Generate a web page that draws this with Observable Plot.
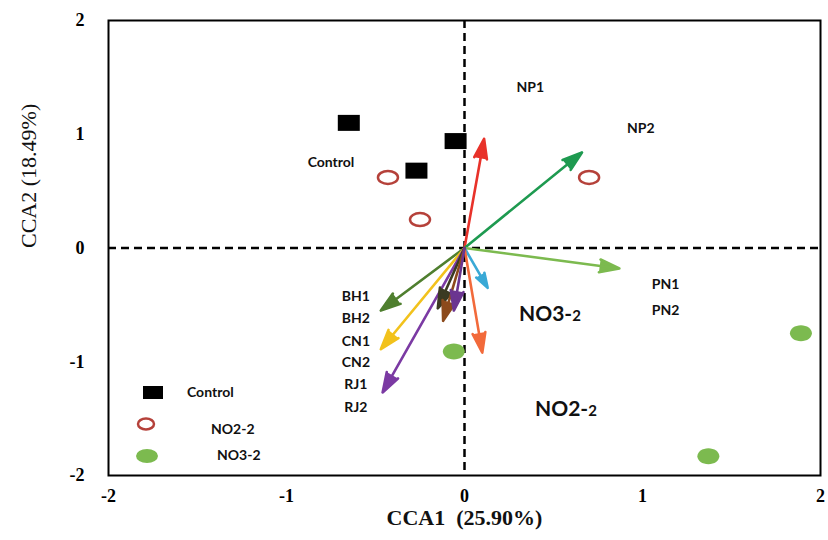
<!DOCTYPE html>
<html><head><meta charset="utf-8">
<script src="https://cdn.jsdelivr.net/npm/d3@7"></script>
<script src="https://cdn.jsdelivr.net/npm/@observablehq/plot@0.6"></script>
<style>
body{margin:0;background:#fff;}
#wrap{position:relative;width:828px;height:540px;}
#legend{position:absolute;left:134px;top:380px;font-family:Lato,"Liberation Sans",sans-serif;font-weight:bold;font-size:14px;color:#111;}
#legend .row{position:absolute;white-space:nowrap;}
</style>
</head><body>
<div id="wrap"><div id="chart"></div>
<div id="legend">
  <div class="row" style="left:8px;top:4px;"><svg width="22" height="16"><rect x="1" y="2" width="20" height="13" fill="#000"/></svg></div>
  <div class="row" style="left:53px;top:3px;">Control</div>
  <div class="row" style="left:1px;top:36px;"><svg width="22" height="16"><ellipse cx="11" cy="8" rx="8" ry="5.5" fill="none" stroke="#b5413a" stroke-width="2.5"/></svg></div>
  <div class="row" style="left:77px;top:40px;">NO2-2</div>
  <div class="row" style="left:1px;top:68px;"><svg width="24" height="16"><ellipse cx="12" cy="8" rx="11" ry="7" fill="#7cba4f"/></svg></div>
  <div class="row" style="left:83px;top:66px;">NO3-2</div>
</div>
</div>
<script>
// Samples (CCA site scores)
const controlX = [-0.65, -0.05, -0.27];
const controlY = [1.10, 0.94, 0.68];
const no2X = [-0.43, -0.25, 0.70];
const no2Y = [0.62, 0.25, 0.62];
const no3X = [-0.06, 1.89, 1.37];
const no3Y = [-0.91, -0.75, -1.83];

// Environmental / species vectors (arrow tips)
const arrowX = [0.11, 0.66, 0.87, 0.13, 0.10, -0.47, -0.47, -0.46, -0.15, -0.12, -0.06];
const arrowY = [0.96, 0.84, -0.18, -0.35, -0.92, -0.55, -0.89, -1.27, -0.53, -0.64, -0.55];
const arrowColors = ["#e8322a", "#1e9a50", "#7cba4f", "#3aa9d6", "#f26a3b", "#4f7f2f", "#f2c21c", "#7b3aa3", "#3b3a22", "#8c4a1c", "#6b3590"];

// Text labels and anchor values
const labelText = ["NP1", "NP2", "PN1", "PN2", "BH1", "BH2", "CN1", "CN2", "RJ1", "RJ2", "Control"];
const labelX = [0.37, 0.99, 1.13, 1.13, -0.61, -0.61, -0.61, -0.61, -0.61, -0.61, -0.75];
const labelY = [1.415, 1.05, -0.32, -0.55, -0.43, -0.62, -0.82, -1.01, -1.20, -1.40, 0.75];
const groupText = ["NO3-|2", "NO2-|2"];
const groupX = [0.48, 0.57];
const groupY = [-0.58, -1.42];

const xTicks = [-2, -1, 0, 1, 2];
const yTicks = [-2, -1, 0, 1, 2];

const control = controlX.map((x, i) => ({x, y: controlY[i]}));
const no2 = no2X.map((x, i) => ({x, y: no2Y[i]}));
const no3 = no3X.map((x, i) => ({x, y: no3Y[i]}));
const arrows = arrowX.map((x, i) => ({x, y: arrowY[i], c: arrowColors[i]}));
const labels = labelText.map((t, i) => ({t, x: labelX[i], y: labelY[i]}));
const groups = groupText.map((t, i) => ({t, x: groupX[i], y: groupY[i]}));

const rectSym = {draw(ctx){ ctx.rect(-11, -8, 22, 16); }};
function ellipseSym(rx, ry){
  const k = 0.5523;
  return {draw(ctx){
    ctx.moveTo(rx, 0);
    ctx.bezierCurveTo(rx, ry*k, rx*k, ry, 0, ry);
    ctx.bezierCurveTo(-rx*k, ry, -rx, ry*k, -rx, 0);
    ctx.bezierCurveTo(-rx, -ry*k, -rx*k, -ry, 0, -ry);
    ctx.bezierCurveTo(rx*k, -ry, rx, -ry*k, rx, 0);
    ctx.closePath();
  }};
}

const serif = "'Liberation Serif','DejaVu Serif',serif";
const sans = "Lato,'Liberation Sans',sans-serif";
const fmt = d => String(d);

const chart = Plot.plot({
  width: 828, height: 540,
  marginLeft: 108, marginRight: 8, marginTop: 20, marginBottom: 65,
  style: {background: "#fff", overflow: "visible"},
  x: {domain: [-2, 2]},
  y: {domain: [-2, 2]},
  marks: [
    Plot.ruleX([0], {stroke: "#000", strokeWidth: 2.5, strokeDasharray: "8,5"}),
    Plot.ruleY([0], {stroke: "#000", strokeWidth: 2.5, strokeDasharray: "8,5"}),
    Plot.arrow(arrows, {x1: d => 0, y1: d => 0, x2: "x", y2: "y", stroke: "c", strokeWidth: 2.6, headLength: 12, headAngle: 36, className: "vec"}),
    Plot.dot(control, {x: "x", y: "y", symbol: rectSym, fill: "#000", stroke: "none"}),
    Plot.dot(no2, {x: "x", y: "y", symbol: ellipseSym(10, 6.5), fill: "none", stroke: "#b5413a", strokeWidth: 2.5}),
    Plot.dot(no3, {x: "x", y: "y", symbol: ellipseSym(11, 8), fill: "#7cba4f", stroke: "none"}),
    Plot.text(labels, {x: "x", y: "y", text: "t", fontFamily: sans, fontWeight: "bold", fontSize: 14, fill: "#111"}),
    Plot.text(groups, {x: "x", y: "y", text: "t", fontFamily: sans, fontWeight: "bold", fontSize: 21, fill: "#111", className: "grp"}),
    Plot.frame({stroke: "#000", strokeWidth: 2}),
    Plot.axisX(xTicks, {tickSize: 0, tickPadding: 14, tickFormat: fmt, fontFamily: serif, fontWeight: "bold", fontSize: 18, label: null}),
    Plot.axisY(yTicks, {tickSize: 0, tickPadding: 24, tickFormat: fmt, fontFamily: serif, fontWeight: "bold", fontSize: 18, label: null}),
    Plot.text(["CCA1  (25.90%)"], {frameAnchor: "bottom", dy: 49, fontFamily: serif, fontWeight: "bold", fontSize: 22, fill: "#111"}),
    Plot.text(["CCA2 (18.49%)"], {frameAnchor: "left", dx: -80, rotate: -90, fontFamily: serif, fontSize: 22, fill: "#111"})
  ]
});
document.getElementById("chart").appendChild(chart);

// fill the arrow heads
d3.select(chart).selectAll(".vec path").each(function(){
  const p = d3.select(this);
  p.attr("fill", p.attr("stroke")).attr("stroke-linejoin", "miter");
});

// render the trailing "2" of group labels smaller
d3.select(chart).selectAll(".grp text").each(function(){
  const t = d3.select(this);
  const parts = t.text().split("|");
  t.text(null);
  t.append("tspan").text(parts[0]);
  t.append("tspan").attr("font-size", 15).text(parts[1]);
});
</script>
</body></html>
